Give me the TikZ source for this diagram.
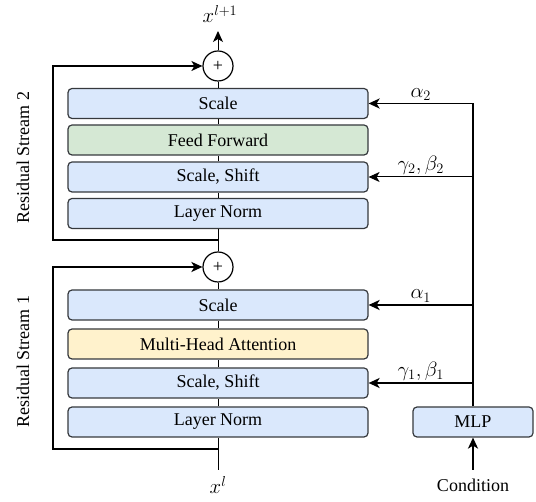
\documentclass[tikz,border=0pt]{standalone}
\usepackage{fontspec}
\setmainfont{Liberation Serif}
\usetikzlibrary{arrows.meta}
\definecolor{edgegray}{HTML}{36393D}
\definecolor{normblue}{HTML}{DAE8FC}
\definecolor{ffgreen}{HTML}{D5E8D4}
\definecolor{attyellow}{HTML}{FFF2CC}
\begin{document}
\begin{tikzpicture}[x=1pt,y=-1pt,
    txt/.style={font=\fontsize{18}{21}\selectfont},
    mathtxt/.style={font=\fontsize{22}{26}\selectfont,inner sep=2pt},
    block/.style={txt,draw=edgegray,line width=1.2pt,rounded corners=4pt,
      minimum width=300pt,minimum height=30pt,inner sep=0pt,fill=normblue},
    plus/.style={txt,draw,circle,line width=1.2pt,minimum size=30pt,inner sep=0pt,fill=white},
    tip/.style={-{Stealth[length=11pt,width=10pt,inset=3pt]}},
    thinline/.style={line width=1pt},
    thickline/.style={line width=1.8pt}]
  \useasboundingbox (0,0) rectangle (536,502);

  % first block
  \node[block] (ln1) at (218,422) {Layer Norm};
  \node[block] (ss1) at (218,383) {Scale, Shift};
  \node[block,fill=attyellow] (mha) at (218,344) {Multi-Head Attention};
  \node[block] (sc1) at (218,305) {Scale};
  \node[plus] (add1) at (218,267) {+};

  % second block
  \node[block] (ln2) at (218,213.5) {Layer Norm};
  \node[block] (ss2) at (218,177) {Scale, Shift};
  \node[block,fill=ffgreen] (ff) at (218,140) {Feed Forward};
  \node[block] (sc2) at (218,103.5) {Scale};
  \node[plus] (add2) at (218,66) {+};

  \node[mathtxt] (xin) at (218,485) {$x^{l}$};
  \node[mathtxt] (xout) at (220,14) {$x^{l+1}$};
  \coordinate (xbot) at (218,470);
  \coordinate (xtop) at (218,31);

  \node[txt,rotate=90] (rs1) at (23,362) {Residual Stream 1};
  \node[txt,rotate=90] (rs2) at (23,158) {Residual Stream 2};

  % main path
  \draw[thinline] (xbot)--(ln1)--(ss1)--(mha)--(sc1)--(add1)--(ln2)--(ss2)--(ff)--(sc2)--(add2);
  \draw[thinline,tip] (add2.north)--(xtop);

  % residual loops
  \coordinate (r1) at (218,449);
  \coordinate (r2) at (218,240);
  \draw[thickline,tip] (r1)--(53,449)--(53,267)--(add1.west);
  \draw[thinline,line width=1.4pt,tip] (r2)--(53,240)--(53,66)--(add2.west);

  % conditioning
  \node[block,minimum width=120pt] (mlp) at (473,422) {MLP};
  \node[txt] (cond) at (473,485) {Condition};
  \coordinate (cbot) at (473,470);
  \draw[thickline,tip] (cbot)--(mlp.south);
  \coordinate (ctop) at (473,103.5);
  \draw[thickline] (mlp.north)--(ctop);
  \draw[thickline,tip] (ctop)--(sc2.east) node[mathtxt,pos=.5,above] {$\alpha_2$};
  \draw[thinline,tip] (473,177)--(ss2.east) node[mathtxt,pos=.5,above] {$\gamma_2,\beta_2$};
  \draw[thickline,tip] (473,305)--(sc1.east) node[mathtxt,pos=.5,above] {$\alpha_1$};
  \draw[thickline,tip] (473,383)--(ss1.east) node[mathtxt,pos=.5,above] {$\gamma_1,\beta_1$};
\end{tikzpicture}
\end{document}
